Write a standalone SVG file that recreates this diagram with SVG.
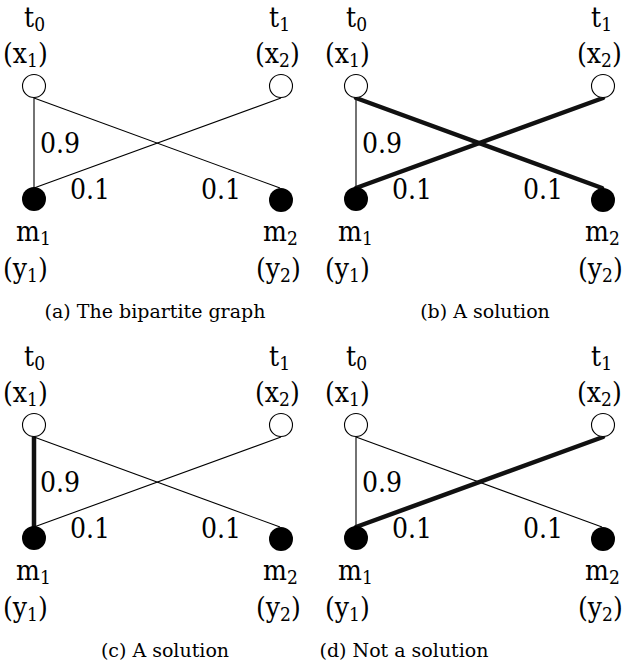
<svg xmlns="http://www.w3.org/2000/svg" width="626" height="669" viewBox="0 0 626 669">
<style>
text{font-family:"DejaVu Serif",serif;fill:#000}
.lbl{font-size:28px;font-stretch:condensed}
.sub{font-size:19px}
.cap{font-size:19px;text-anchor:middle}
.thin{stroke:#000;stroke-width:1.1;fill:none}
.thick{stroke:#111;stroke-width:4.5;fill:none;stroke-linecap:round}
.open{fill:#fff;stroke:#000;stroke-width:1.1}
.full{fill:#000}
</style>

<g id="panel-a">
<g id="a-connectors">
<line class="thin" x1="34" y1="98" x2="34" y2="188"/>
<line class="thin" x1="34" y1="98" x2="280" y2="188"/>
<line class="thin" x1="34" y1="188" x2="281" y2="98"/>
</g>
<g id="a-edge-labels">
<text class="lbl" x="40" y="153">0.9</text>
<text class="lbl" x="70" y="199">0.1</text>
<text class="lbl" x="201" y="199">0.1</text>
</g>
<g id="a-x1">
<circle class="open" cx="34" cy="86" r="11.5"/>
<text class="lbl" x="24" y="27">t<tspan class="sub" dy="4">0</tspan></text>
<text class="lbl" x="3" y="63">(x<tspan class="sub" dy="4">1</tspan><tspan dy="-4">)</tspan></text>
</g>
<g id="a-x2">
<circle class="open" cx="281" cy="86" r="11.5"/>
<text class="lbl" x="269" y="27">t<tspan class="sub" dy="4">1</tspan></text>
<text class="lbl" x="255" y="63">(x<tspan class="sub" dy="4">2</tspan><tspan dy="-4">)</tspan></text>
</g>
<g id="a-y1">
<circle class="full" cx="34" cy="199" r="12"/>
<text class="lbl" x="16" y="241">m<tspan class="sub" dy="4">1</tspan></text>
<text class="lbl" x="3" y="278">(y<tspan class="sub" dy="4">1</tspan><tspan dy="-4">)</tspan></text>
</g>
<g id="a-y2">
<circle class="full" cx="281" cy="200" r="12"/>
<text class="lbl" x="263" y="241">m<tspan class="sub" dy="4">2</tspan></text>
<text class="lbl" x="256" y="278">(y<tspan class="sub" dy="4">2</tspan><tspan dy="-4">)</tspan></text>
</g>
<text class="cap" x="155" y="318">(a) The bipartite graph</text>
</g>

<g id="panel-b" transform="translate(322,0)">
<g id="b-connectors">
<line class="thin" x1="34" y1="98" x2="34" y2="188"/>
<line class="thick" x1="34" y1="98" x2="280" y2="188"/>
<line class="thick" x1="34" y1="188" x2="281" y2="98"/>
</g>
<g id="b-edge-labels">
<text class="lbl" x="40" y="153">0.9</text>
<text class="lbl" x="70" y="199">0.1</text>
<text class="lbl" x="201" y="199">0.1</text>
</g>
<g id="b-x1">
<circle class="open" cx="34" cy="86" r="11.5"/>
<text class="lbl" x="24" y="27">t<tspan class="sub" dy="4">0</tspan></text>
<text class="lbl" x="3" y="63">(x<tspan class="sub" dy="4">1</tspan><tspan dy="-4">)</tspan></text>
</g>
<g id="b-x2">
<circle class="open" cx="281" cy="86" r="11.5"/>
<text class="lbl" x="269" y="27">t<tspan class="sub" dy="4">1</tspan></text>
<text class="lbl" x="255" y="63">(x<tspan class="sub" dy="4">2</tspan><tspan dy="-4">)</tspan></text>
</g>
<g id="b-y1">
<circle class="full" cx="34" cy="199" r="12"/>
<text class="lbl" x="16" y="241">m<tspan class="sub" dy="4">1</tspan></text>
<text class="lbl" x="3" y="278">(y<tspan class="sub" dy="4">1</tspan><tspan dy="-4">)</tspan></text>
</g>
<g id="b-y2">
<circle class="full" cx="281" cy="200" r="12"/>
<text class="lbl" x="263" y="241">m<tspan class="sub" dy="4">2</tspan></text>
<text class="lbl" x="256" y="278">(y<tspan class="sub" dy="4">2</tspan><tspan dy="-4">)</tspan></text>
</g>
<text class="cap" x="163" y="318">(b) A solution</text>
</g>

<g id="panel-c" transform="translate(0,339)">
<g id="c-connectors">
<line class="thick" x1="34" y1="98" x2="34" y2="188"/>
<line class="thin" x1="34" y1="98" x2="280" y2="188"/>
<line class="thin" x1="34" y1="188" x2="281" y2="98"/>
</g>
<g id="c-edge-labels">
<text class="lbl" x="40" y="153">0.9</text>
<text class="lbl" x="70" y="199">0.1</text>
<text class="lbl" x="201" y="199">0.1</text>
</g>
<g id="c-x1">
<circle class="open" cx="34" cy="86" r="11.5"/>
<text class="lbl" x="24" y="27">t<tspan class="sub" dy="4">0</tspan></text>
<text class="lbl" x="3" y="63">(x<tspan class="sub" dy="4">1</tspan><tspan dy="-4">)</tspan></text>
</g>
<g id="c-x2">
<circle class="open" cx="281" cy="86" r="11.5"/>
<text class="lbl" x="269" y="27">t<tspan class="sub" dy="4">1</tspan></text>
<text class="lbl" x="255" y="63">(x<tspan class="sub" dy="4">2</tspan><tspan dy="-4">)</tspan></text>
</g>
<g id="c-y1">
<circle class="full" cx="34" cy="199" r="12"/>
<text class="lbl" x="16" y="241">m<tspan class="sub" dy="4">1</tspan></text>
<text class="lbl" x="3" y="278">(y<tspan class="sub" dy="4">1</tspan><tspan dy="-4">)</tspan></text>
</g>
<g id="c-y2">
<circle class="full" cx="281" cy="200" r="12"/>
<text class="lbl" x="263" y="241">m<tspan class="sub" dy="4">2</tspan></text>
<text class="lbl" x="256" y="278">(y<tspan class="sub" dy="4">2</tspan><tspan dy="-4">)</tspan></text>
</g>
<text class="cap" x="165" y="318">(c) A solution</text>
</g>

<g id="panel-d" transform="translate(322,339)">
<g id="d-connectors">
<line class="thin" x1="34" y1="98" x2="34" y2="188"/>
<line class="thin" x1="34" y1="98" x2="280" y2="188"/>
<line class="thick" x1="34" y1="188" x2="281" y2="98"/>
</g>
<g id="d-edge-labels">
<text class="lbl" x="40" y="153">0.9</text>
<text class="lbl" x="70" y="199">0.1</text>
<text class="lbl" x="201" y="199">0.1</text>
</g>
<g id="d-x1">
<circle class="open" cx="34" cy="86" r="11.5"/>
<text class="lbl" x="24" y="27">t<tspan class="sub" dy="4">0</tspan></text>
<text class="lbl" x="3" y="63">(x<tspan class="sub" dy="4">1</tspan><tspan dy="-4">)</tspan></text>
</g>
<g id="d-x2">
<circle class="open" cx="281" cy="86" r="11.5"/>
<text class="lbl" x="269" y="27">t<tspan class="sub" dy="4">1</tspan></text>
<text class="lbl" x="255" y="63">(x<tspan class="sub" dy="4">2</tspan><tspan dy="-4">)</tspan></text>
</g>
<g id="d-y1">
<circle class="full" cx="34" cy="199" r="12"/>
<text class="lbl" x="16" y="241">m<tspan class="sub" dy="4">1</tspan></text>
<text class="lbl" x="3" y="278">(y<tspan class="sub" dy="4">1</tspan><tspan dy="-4">)</tspan></text>
</g>
<g id="d-y2">
<circle class="full" cx="281" cy="200" r="12"/>
<text class="lbl" x="263" y="241">m<tspan class="sub" dy="4">2</tspan></text>
<text class="lbl" x="256" y="278">(y<tspan class="sub" dy="4">2</tspan><tspan dy="-4">)</tspan></text>
</g>
<text class="cap" x="82" y="318">(d) Not a solution</text>
</g>
</svg>
